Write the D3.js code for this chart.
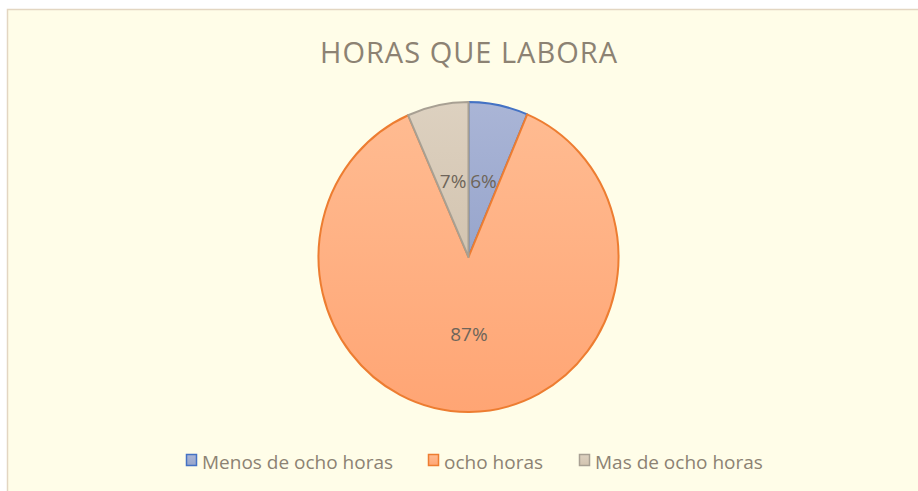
<!DOCTYPE html>
<html>
<head>
<meta charset="utf-8">
<script src="https://cdn.jsdelivr.net/npm/d3@7"></script>
<style>
  body { margin: 0; background: #fff; }
  svg { display: block; }
</style>
</head>
<body>
<svg width="918" height="491"></svg>
<script>
// data
var categories = ["Menos de ocho horas", "ocho horas", "Mas de ocho horas"];
var values = [6.4, 87.0, 6.6];
var labels = ["6%", "87%", "7%"];
var fillTop = ["#aab5d6", "#ffbb91", "#ddd1c0"];
var fillBottom = ["#97a5cc", "#ffa574", "#d3c4b0"];
var strokes = ["#4472c4", "#ed7d31", "#a8a093"];

var svg = d3.select("svg");
var W = 918, H = 491;

// chart area
svg.append("rect").attr("width", W).attr("height", H).attr("fill", "#ffffff");
svg.append("rect")
   .attr("x", 7.5).attr("y", 9.5)
   .attr("width", W).attr("height", H)
   .attr("fill", "#fffde8")
   .attr("stroke", "#e3d6c1").attr("stroke-width", 1.5);

// title
svg.append("text")
   .attr("x", 469).attr("y", 63)
   .attr("text-anchor", "middle")
   .attr("font-family", "'Open Sans', sans-serif")
   .attr("font-size", 29)
   .attr("letter-spacing", 1)
   .attr("fill", "#8c8273")
   .text("HORAS QUE LABORA");

var defs = svg.append("defs");
values.forEach(function(v, i) {
    var gr = defs.append("linearGradient")
        .attr("id", "g" + i)
        .attr("x1", 0).attr("y1", 0).attr("x2", 0).attr("y2", 1);
    gr.append("stop").attr("offset", "0%").attr("stop-color", fillTop[i]);
    gr.append("stop").attr("offset", "100%").attr("stop-color", fillBottom[i]);
});

var r = 150;
var pie = d3.pie().sort(null).value(d => d);
var arc = d3.arc().innerRadius(0).outerRadius(r);
var labelArc = d3.arc().innerRadius(75).outerRadius(75);

var g = svg.append("g")
   .attr("transform", "translate(468.5,257) scale(1,1.033)");

var arcs = pie(values);

g.selectAll("path")
 .data(arcs)
 .enter().append("path")
 .attr("d", arc)
 .attr("fill", (d, i) => "url(#g" + i + ")")
 .attr("stroke", (d, i) => strokes[i])
 .attr("stroke-width", 2)
 .attr("stroke-linejoin", "round");

svg.selectAll("text.lab")
 .data(arcs)
 .enter().append("text")
 .attr("class", "lab")
 .attr("x", d => 468.5 + labelArc.centroid(d)[0])
 .attr("y", d => 257 + labelArc.centroid(d)[1] * 1.033)
 .attr("dy", "0.35em")
 .attr("text-anchor", "middle")
 .attr("font-family", "'Open Sans', sans-serif")
 .attr("font-size", 19)
 .attr("fill", "#6e655a")
 .text((d, i) => labels[i]);

// legend
var legX = [186, 428, 579];
var leg = svg.selectAll("g.leg")
 .data(categories)
 .enter().append("g")
 .attr("class", "leg")
 .attr("transform", (d, i) => "translate(" + legX[i] + ",454)");

leg.append("rect")
 .attr("x", 0.5).attr("y", 0.5)
 .attr("width", 10).attr("height", 11)
 .attr("fill", (d, i) => "url(#g" + i + ")")
 .attr("stroke", (d, i) => strokes[i])
 .attr("stroke-width", 1.5);

leg.append("text")
 .attr("x", 16).attr("y", 15)
 .attr("font-family", "'Open Sans', sans-serif")
 .attr("font-size", 19)
 .attr("fill", "#8c8273")
 .text(d => d);
</script>
</body>
</html>
